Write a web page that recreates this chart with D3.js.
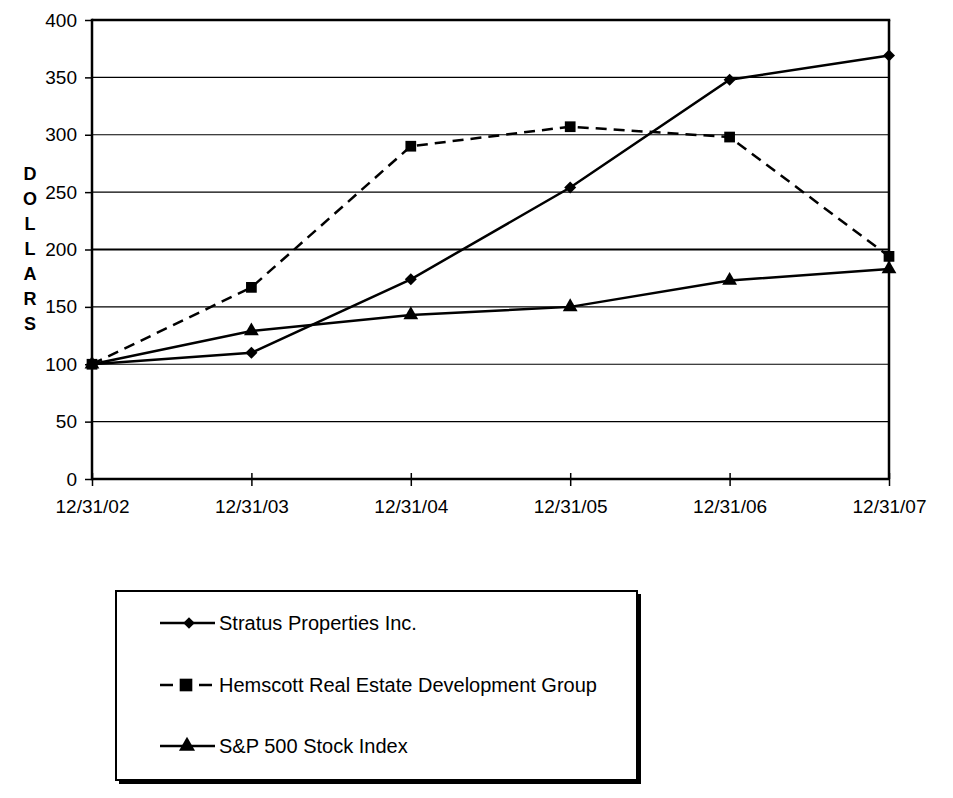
<!DOCTYPE html>
<html><head><meta charset="utf-8">
<script src="https://cdn.jsdelivr.net/npm/d3@7"></script>
<style>body{margin:0;background:#fff}svg{display:block}text{font-family:"Liberation Sans",Arial,sans-serif}</style>
</head><body>
<svg id="c" width="953" height="798"></svg>
<script>
const categories = ["12/31/02","12/31/03","12/31/04","12/31/05","12/31/06","12/31/07"];
const stratus = [100,110,174,254,348,369];
const hemscott = [100,167,290,307,298,194];
const sp500 = [100,129,143,150,173,183];
const yTicks = [0,50,100,150,200,250,300,350,400];
const seriesNames = ["Stratus Properties Inc.","Hemscott Real Estate Development Group","S&P 500 Stock Index"];

const svg = d3.select("#c");
const L=92,R=889,T=20,B=479;
const x = d3.scalePoint().domain(categories).range([L,R]);
const y = d3.scaleLinear().domain([0,400]).range([B,T]);
const FONT = "Liberation Sans, Arial, sans-serif";

// gridlines
svg.append("g").selectAll("line").data(yTicks.filter(d=>d>0&&d<400)).join("line")
  .attr("x1",L).attr("x2",R).attr("y1",d=>y(d)).attr("y2",d=>y(d))
  .attr("stroke","#000").attr("stroke-width",d=>d===200?2:1.2);
// top & right border
svg.append("line").attr("x1",L).attr("x2",R+1.25).attr("y1",y(400)).attr("y2",y(400)).attr("stroke","#000").attr("stroke-width",2.5);
svg.append("line").attr("x1",R).attr("x2",R).attr("y1",y(400)).attr("y2",B).attr("stroke","#000").attr("stroke-width",2.5);

// y axis
const ya = svg.append("g").attr("transform",`translate(${L},0)`).call(d3.axisLeft(y).tickValues(yTicks).tickSize(7).tickPadding(8));
ya.select(".domain").attr("stroke-width",2.5).attr("d",`M0,${T-1.25}V${B+1.25}`);
ya.selectAll(".tick line").attr("stroke-width",1.5);
ya.selectAll(".tick text").attr("font-size",19).attr("fill","#000").attr("font-family",FONT);

// x axis
const xa = svg.append("g").attr("transform",`translate(0,${B})`).call(d3.axisBottom(x).tickSize(7).tickPadding(13.5));
xa.select(".domain").attr("stroke-width",2.5).attr("d",`M${L},0H${R}`);
xa.selectAll(".tick line").attr("y1",-6).attr("stroke-width",1.5);
xa.selectAll(".tick text").attr("font-size",19).attr("fill","#000").attr("font-family",FONT);

// y label DOLLARS
const lab = "DOLLARS".split("");
svg.append("g").selectAll("text").data(lab).join("text")
  .attr("x",30).attr("y",(d,i)=>180+i*25).attr("text-anchor","middle")
  .attr("font-size",18).attr("font-weight","bold").text(d=>d);

const line = d3.line().x((d,i)=>x(categories[i])).y(d=>y(d));
const sym = [d3.symbolSquare, d3.symbolSquare, d3.symbolTriangle];
const rot = [45,0,0];
const symSize = [72, 115, 95];
const dashes = [null,"11,7",null];
const data = [stratus,hemscott,sp500];

data.forEach((s,k)=>{
  svg.append("path").datum(s).attr("d",line).attr("fill","none").attr("stroke","#000")
    .attr("stroke-width",2.5).attr("stroke-dasharray",dashes[k]);
  svg.append("g").selectAll("path").data(s).join("path")
    .attr("transform",(d,i)=>`translate(${x(categories[i])},${y(d)}) rotate(${rot[k]})`)
    .attr("d",d3.symbol().type(sym[k]).size(symSize[k])).attr("fill","#000");
});

// legend
const lg = svg.append("g");
lg.append("rect").attr("x",119).attr("y",594).attr("width",522).attr("height",190).attr("fill","#000");
lg.append("rect").attr("x",116).attr("y",591).attr("width",521).attr("height",189).attr("fill","#fff").attr("stroke","#000").attr("stroke-width",2);
const rows=[623,685,746];
const mx=[189,186,187];
const lsize=[66,160,112];
seriesNames.forEach((n,k)=>{
  lg.append("line").attr("x1",160).attr("x2",dashes[k]?212:215).attr("y1",rows[k]).attr("y2",rows[k])
    .attr("stroke","#000").attr("stroke-width",2.5).attr("stroke-dasharray",dashes[k]?"13,26,13":null);
  lg.append("path").attr("transform",`translate(${mx[k]},${rows[k]}) rotate(${rot[k]})`)
    .attr("d",d3.symbol().type(sym[k]).size(lsize[k])).attr("fill","#000");
  lg.append("text").attr("x",219).attr("y",rows[k]+7).attr("font-size",20).text(n);
});
</script>
</body></html>
